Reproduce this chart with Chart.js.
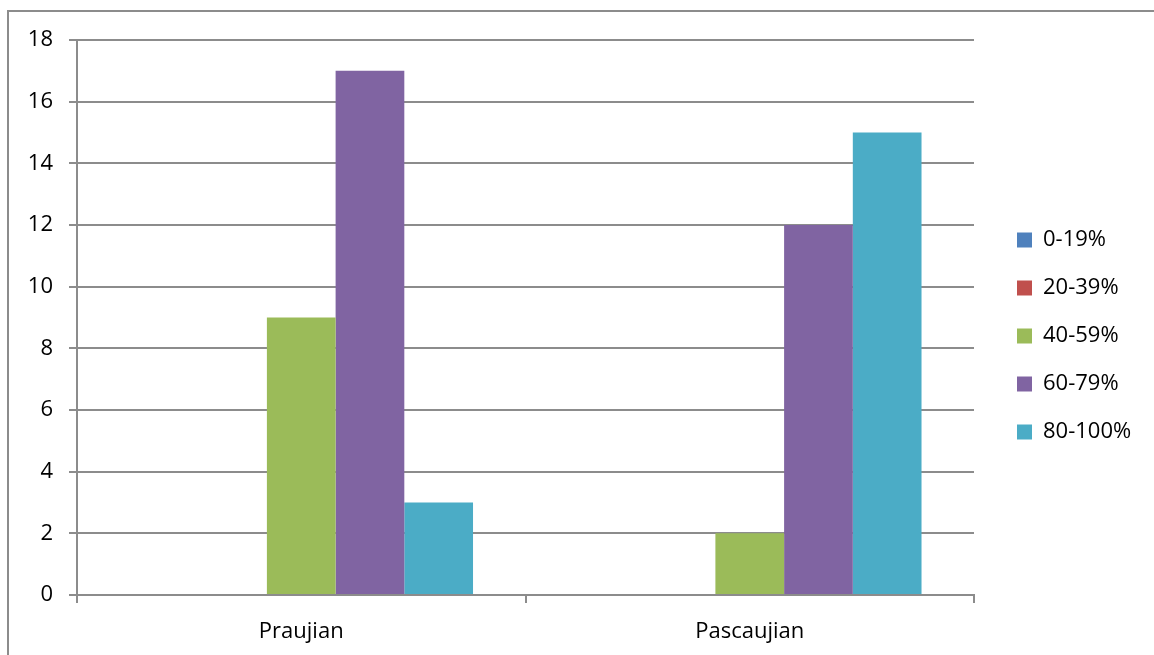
<!DOCTYPE html>
<html>
<head>
<meta charset="utf-8">
<script src="https://cdn.jsdelivr.net/npm/chart.js@4/dist/chart.umd.min.js"></script>
<style>
  html, body { margin: 0; padding: 0; background: #fff; overflow: hidden; }
  #frame {
    position: absolute; left: 7px; top: 10px;
    width: 1200px; height: 700px;
    border-left: 2px solid #8c8c8c; border-top: 2px solid #8c8c8c;
    box-sizing: border-box;
  }
  #wrap { position: absolute; left: 0; top: 0; width: 1154px; height: 655px; }
</style>
</head>
<body>
<div id="frame"></div>
<div id="wrap"><canvas id="c" width="1154" height="655"></canvas></div>
<script>
// Score bands per test session
const categories = ['Praujian', 'Pascaujian'];
const bandLabels = ['0-19%', '20-39%', '40-59%', '60-79%', '80-100%'];
const band0to19 = [0, 0];
const band20to39 = [0, 0];
const band40to59 = [9, 2];
const band60to79 = [17, 12];
const band80to100 = [3, 15];
const yTicks = [0, 2, 4, 6, 8, 10, 12, 14, 16, 18];
const bandColors = ['#4F81BD', '#C0504D', '#9BBB59', '#8064A2', '#4BACC6'];

const seriesValues = [band0to19, band20to39, band40to59, band60to79, band80to100];
const FONT = "'Open Sans', 'Liberation Sans', sans-serif";
const FONT_SIZE = 22;
const GRID = '#8c8c8c';
const LEGEND_WIDTH = 163;
const LEGEND_BOTTOM_TRIM = 23;

// Fixed legend width, and a legend column centred a little higher than the full box
const legendBoxPlugin = {
  id: 'legendBox',
  beforeLayout(chart) {
    const lg = chart.legend;
    if (lg && !lg._fixedWidth) {
      const fit = lg.fit;
      lg.fit = function () { fit.call(this); this.width = LEGEND_WIDTH; };
      lg._fixedWidth = true;
    }
  },
  afterLayout(chart) {
    const lg = chart.legend;
    if (lg) {
      lg.bottom -= LEGEND_BOTTOM_TRIM;
      lg.height -= LEGEND_BOTTOM_TRIM;
    }
  }
};

new Chart(document.getElementById('c'), {
  type: 'bar',
  data: {
    labels: categories,
    datasets: seriesValues.map((vals, i) => ({
      label: bandLabels[i],
      data: vals,
      backgroundColor: bandColors[i],
      borderWidth: 0,
      categoryPercentage: 0.766,
      barPercentage: 1.0
    }))
  },
  plugins: [legendBoxPlugin],
  options: {
    responsive: false,
    animation: false,
    layout: { padding: { top: 40, left: 0, right: 0, bottom: 0 } },
    plugins: {
      tooltip: { enabled: false },
      legend: {
        position: 'right',
        labels: {
          boxWidth: 15, boxHeight: 15,
          padding: 48 - FONT_SIZE,
          color: '#000',
          font: { family: FONT, size: FONT_SIZE }
        }
      }
    },
    scales: {
      x: {
        grid: {
          display: true, drawOnChartArea: false, drawTicks: true,
          tickLength: 8, color: GRID, lineWidth: 2, offset: true
        },
        border: { display: true, color: GRID, width: 2 },
        ticks: { color: '#000', padding: 16, font: { family: FONT, size: FONT_SIZE } },
        afterFit(scale) { scale.height = 60; }
      },
      y: {
        min: 0, max: 18,
        afterBuildTicks(scale) { scale.ticks = yTicks.map(v => ({ value: v })); },
        ticks: { color: '#000', padding: 16, font: { family: FONT, size: FONT_SIZE } },
        grid: { color: GRID, lineWidth: 2, tickLength: 8 },
        border: { display: true, color: GRID, width: 2 },
        afterFit(scale) { scale.width = 77; }
      },
      gap: {
        type: 'linear', axis: 'y', position: 'right', display: true,
        grid: { display: false, drawTicks: false },
        border: { display: false },
        ticks: { display: false },
        afterFit(scale) { scale.width = 17; }
      }
    }
  }
});
</script>
</body>
</html>
